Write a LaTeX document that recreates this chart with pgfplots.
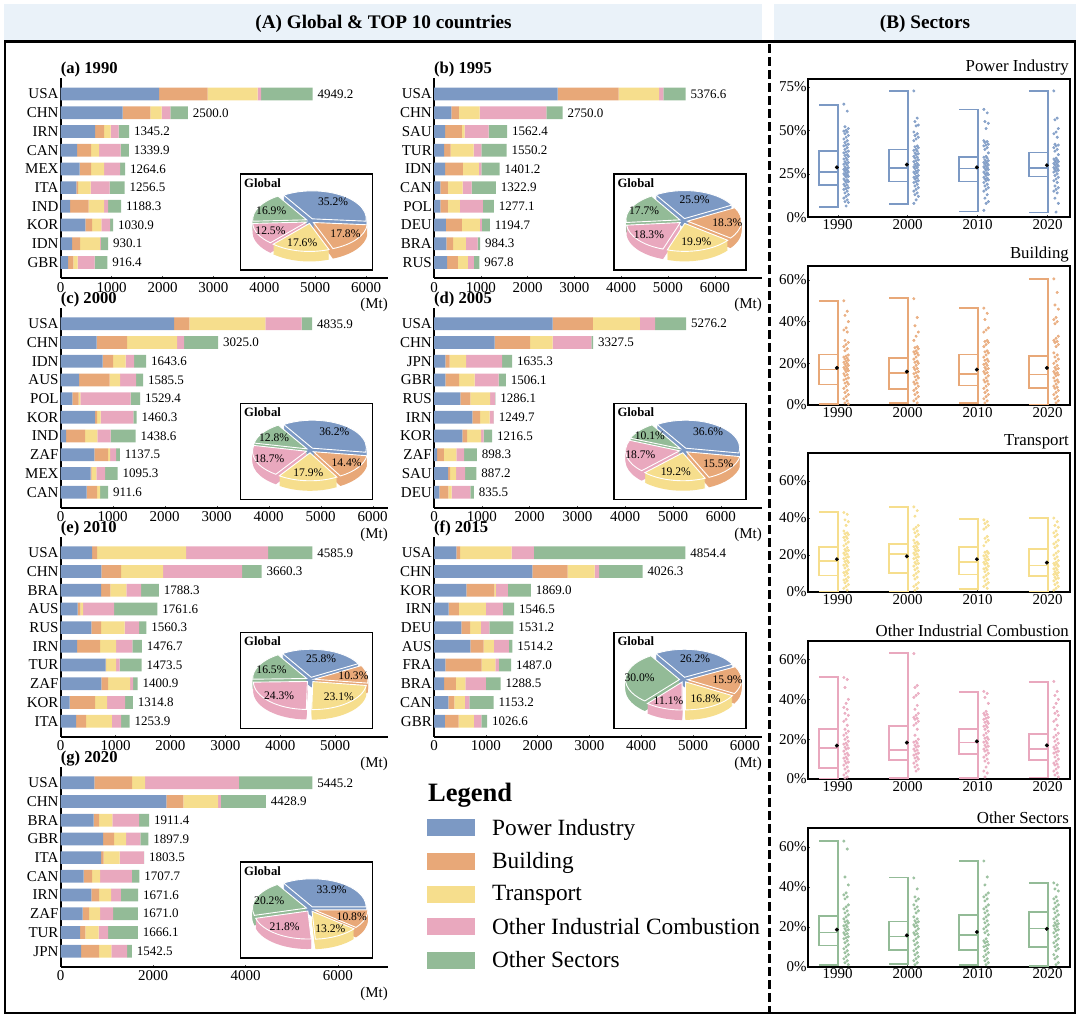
\documentclass[border=0pt]{standalone}
\usepackage{fontspec}
\setmainfont{Liberation Serif}
\usepackage{pgfplots}
\usepackage{pgfplotstable}
\pgfplotsset{compat=1.18}

\definecolor{cP}{HTML}{7C99C4}
\definecolor{cB}{HTML}{E8A878}
\definecolor{cT}{HTML}{F6DE8D}
\definecolor{cO}{HTML}{E9A8BE}
\definecolor{cS}{HTML}{93BB97}
\definecolor{headbg}{HTML}{EAF2F9}

\newcommand{\fs}[1]{\fontsize{#1}{#1}\selectfont}

% widths per sector in Mt, y runs 9..0 from the top row down
\pgfplotstableread{
y name P B T O S total
9 USA 1932 956 982 66 1013 4949.2
8 CHN 1218 544 222 171 345 2500.0
7 IRN 675 176 131 158 205 1345.2
6 CAN 321 275 157 426 161 1339.9
5 MEX 373 223 255 315 99 1264.6
4 ITA 308 33 248 374 294 1256.5
3 IND 183 367 301 79 258 1188.3
2 KOR 485 131 183 170 62 1030.9
1 IDN 223 157 393 17 140 930.1
0 GBR 144 105 85 334 248 916.4
}\dataA
\pgfplotstableread{
y name P B T O S total
9 USA 2641 1302 868 93 473 5376.6
8 CHN 370 164 441 1424 351 2750.0
7 SAU 235 363 57 512 395 1562.4
6 TUR 214 142 491 164 539 1550.2
5 IDN 235 384 342 50 390 1401.2
4 CAN 135 164 313 192 519 1322.9
3 POL 135 164 256 491 231 1277.1
2 DEU 256 342 384 43 170 1194.7
1 BRA 263 143 277 249 52 984.3
0 RUS 278 234 214 128 114 967.8
}\dataB
\pgfplotstableread{
y name P B T O S total
9 USA 2179 295 1462 699 201 4835.9
8 CHN 692 584 961 135 653 3025.0
7 IDN 808 198 244 160 234 1643.6
6 AUS 353 589 199 308 136 1585.5
5 POL 224 122 32 968 183 1529.4
4 KOR 660 39 70 628 63 1460.3
3 IND 103 365 237 257 477 1438.6
2 ZAF 647 263 39 115 73 1137.5
1 MEX 577 19 90 167 242 1095.3
0 CAN 500 199 57 0 156 911.6
}\dataC
\pgfplotstableread{
y name P B T O S total
9 USA 2484 838 984 321 649 5276.2
8 CHN 1270 740 474 810 34 3327.5
7 JPN 237 91 342 754 211 1635.3
6 GBR 237 286 328 503 152 1506.1
5 RUS 551 210 411 105 9 1286.1
4 IRN 803 160 202 84 1 1249.7
3 KOR 593 98 293 56 176 1216.5
2 ZAF 63 146 259 160 270 898.3
1 SAU 293 42 126 188 238 887.2
0 DEU 112 188 70 391 75 835.5
}\dataD
\pgfplotstableread{
y name P B T O S total
9 USA 571 91 1622 1495 807 4585.9
8 CHN 741 359 765 1440 355 3660.3
7 BRA 735 170 292 267 324 1788.3
6 AUS 310 48 49 565 790 1761.6
5 RUS 559 176 431 262 132 1560.3
4 IRN 298 419 292 297 171 1476.7
3 TUR 820 6 183 66 398 1473.5
2 ZAF 741 122 401 54 83 1400.9
1 KOR 164 462 218 329 142 1314.8
0 ITA 279 183 468 170 154 1253.9
}\dataE
\pgfplotstableread{
y name P B T O S total
9 USA 431 71 996 431 2925 4854.4
8 CHN 1897 682 521 90 836 4026.3
7 KOR 624 540 32 232 441 1869.0
6 IRN 283 199 521 328 215 1546.5
5 DEU 527 168 212 161 463 1531.2
4 AUS 701 257 200 289 67 1514.2
3 FRA 219 701 263 71 233 1487.0
2 BRA 193 231 180 399 285 1288.5
1 CAN 277 115 206 84 471 1153.2
0 GBR 212 264 296 141 114 1026.6
}\dataF
\pgfplotstableread{
y name P B T O S total
9 USA 729 816 282 2029 1589 5445.2
8 CHN 2289 368 751 58 974 4428.9
7 BRA 715 115 289 578 216 1911.4
6 GBR 917 238 260 311 173 1897.9
5 ITA 874 57 347 520 7 1803.5
4 CAN 498 181 173 686 166 1707.7
3 IRN 664 166 260 210 375 1671.6
2 ZAF 477 137 238 282 534 1671.0
1 TUR 419 115 289 202 643 1666.1
0 JPN 440 390 267 340 101 1542.5
}\dataG

\pgfplotsset{
  /pgf/number format/assume math mode=true,
  /pgf/number format/1000 sep={},
  barax/.style={
    xbar stacked, scale only axis, anchor=south west, clip=false,
    height=200pt, xmin=0, ymin=-0.83, ymax=9.86,
    bar width=12.7pt, ytick=data,
    axis lines=left, axis line style={-,line width=2pt},
    tick align=inside, major tick length=2pt,
    x tick style={black!70,line width=0.4pt}, y tick style={draw=none},
    tick label style={font=\fs{15}},
    xticklabel style={inner sep=1pt,yshift=-3pt},
    yticklabel style={inner sep=2pt},
  },
  sectorlegend/.style={
    legend image code/.code={\fill[##1] (0pt,-8.5pt) rectangle (48pt,8.5pt);\path (60pt,0pt);},
    legend entries={Power Industry,Building,Transport,Other Industrial Combustion,Other Sectors},
    legend cell align=left,
    legend style={draw=none,fill=none,at={(1.119,0.765)},anchor=north west,inner sep=0pt,
      font=\fs{23.3},row sep=5.7pt,nodes={inner sep=5pt}},
  },
  pieax/.style={
    scale only axis, anchor=south west, width=132pt, height=96pt, clip=false,
    xmin=-69.5, xmax=62.5, ymin=-49, ymax=47, xtick=\empty, ytick=\empty,
    axis line style={line width=1.2pt}, axis background/.style={fill=white},
  },
  secax/.style n args={5}{
    scale only axis, anchor=south west, width=262.3pt, height=#2pt,
    at={(807.7pt,{1018pt-#1pt})},
    xmin=-0.4286, xmax=3.319, ymin=0, ymax=#3,
    xtick={0,1,2,3}, xticklabels={1990,2000,2010,2020},
    ytick={#4}, yticklabel={\pgfmathprintnumber{\tick}\%},
    xtick pos=bottom, ytick pos=left,
    tick align=inside, major tick length=2pt,
    tick style={black!70,line width=0.4pt},
    axis line style={line width=2pt},
    tick label style={font=\fs{15}},
    xticklabel style={inner sep=1pt,yshift=-1pt},
    yticklabel style={inner sep=1pt},
    title={#5}, title style={at={(1,1)},anchor=south east,font=\fs{16.8},inner sep=1pt,yshift=-3pt},
  },
}

% table, left px, x-axis px from top, width px, xmax, xticks, title, extra options
\newcommand{\barpanel}[8]{%
\begin{axis}[barax, at={(#2pt,{1018pt-#3pt})}, width=#4pt, xmax=#5, xtick={#6},
    yticklabels from table={#1}{name}, #8]
  \addplot[fill=cP,draw=none] table[x=P,y=y] {#1};
  \addplot[fill=cB,draw=none] table[x=B,y=y] {#1};
  \addplot[fill=cT,draw=none] table[x=T,y=y] {#1};
  \addplot[fill=cO,draw=none] table[x=O,y=y] {#1};
  % node sits at the middle of the last segment, so push it out by half that segment
  \addplot[fill=cS,draw=none,point meta=explicit symbolic,
    visualization depends on={\thisrow{S}/#5*#4/2 \as \halfseg},
    nodes near coords={\makebox[0pt][l]{\pgfplotspointmeta}},
    every node near coord/.append style={font=\fs{13},inner sep=0pt,xshift=\halfseg pt+5pt,color=black}]
    table[x=S,y=y,meta=total] {#1};
  \node[anchor=west,inner sep=0pt,font=\bfseries\fs{16.6}] at (axis description cs:0,1) [yshift=8.5pt] {#7};
  \node[anchor=east,inner sep=0pt,font=\fs{15}] at (axis description cs:1,0) [yshift=-27pt] {(Mt)};
\end{axis}}

% one pie slice: lifted sides, then the top face
\newcommand{\slice}[3]{%
  \pgfmathsetmacro\am{(#2+#3)/2}%
  \pgfmathsetmacro\ex{4*cos(\am)}%
  \pgfmathsetmacro\ey{2.5*sin(\am)}%
  \foreach \dz in {10,9,...,1}{%
    \fill[#1] ({\ex pt},{\ey pt-\dz pt}) -- ++(#2:54pt and 28pt)
      arc[start angle=#2,end angle=#3,x radius=54pt,y radius=28pt] -- cycle;}%
  \filldraw[fill=#1,draw=white,line width=0.9pt] ({\ex pt},{\ey pt}) -- ++(#2:54pt and 28pt)
      arc[start angle=#2,end angle=#3,x radius=54pt,y radius=28pt] -- cycle;}

% left px, top px, then the five shares
\newcommand{\piepanel}[7]{%
\begin{axis}[pieax, at={(#1pt,{1018pt-#2pt-96pt})}]
\pgfplotsextra{%
  \pgfmathsetmacro\aA{122}%
  \pgfmathsetmacro\aB{\aA-3.6*#3}%
  \pgfmathsetmacro\aC{\aB-3.6*#4}%
  \pgfmathsetmacro\aD{\aC-3.6*#5}%
  \pgfmathsetmacro\aE{\aD-3.6*#6}%
  \pgfmathsetmacro\aF{\aE-3.6*#7}%
  \begin{scope}[shift={(axis cs:0,0)}]
    \slice{cP}{\aA}{\aB}
    \slice{cS}{\aE}{\aF}
    \slice{cB}{\aB}{\aC}
    \slice{cO}{\aD}{\aE}
    \slice{cT}{\aC}{\aD}
    \tikzset{every node/.style={font=\fs{11.6},inner sep=0pt}}
    \node at ({44pt*cos((\aA+\aB)/2)},{22pt*sin((\aA+\aB)/2)}) {#3\%};
    \node at ({44pt*cos((\aB+\aC)/2)},{22pt*sin((\aB+\aC)/2)}) {#4\%};
    \node at ({44pt*cos((\aC+\aD)/2)},{22pt*sin((\aC+\aD)/2)}) {#5\%};
    \node at ({44pt*cos((\aD+\aE)/2)},{22pt*sin((\aD+\aE)/2)}) {#6\%};
    \node at ({44pt*cos((\aE+\aF)/2)},{22pt*sin((\aE+\aF)/2)}) {#7\%};
  \end{scope}
  \node[anchor=west,inner sep=0pt,font=\bfseries\fs{12.7}] at (axis cs:-66.2,38.3) {Global};
}
\end{axis}}

% category, min, q1, median, q3, max, mean, strip values
\newcommand{\hb}[8]{%
  \pgfmathsetmacro\xl{#1-0.267}%
  \addplot[only marks,mark=*,mark size=1.3pt,seccol,mark options={draw=none,fill=seccol,fill opacity=0.85}]
    table[row sep=crcr,header=false,y index=0,x expr={#1+0.12+0.016*(mod(\coordindex*3,5)-2)}] {#8};
  \addplot[seccol,line width=1.7pt,sharp plot,mark=none] coordinates {(\xl,#6) (#1,#6) (#1,#2) (\xl,#2)};
  \addplot[seccol,line width=1.7pt,sharp plot,mark=none] coordinates {(#1,#3) (\xl,#3) (\xl,#5) (#1,#5)};
  \addplot[seccol,line width=1.7pt,sharp plot,mark=none] coordinates {(\xl,#4) (#1,#4)};
  \addplot[only marks,mark=*,mark size=1.8pt,black] coordinates {(#1-0.012,#7)};
}

\begin{document}
\begin{tikzpicture}
\useasboundingbox (0,0) rectangle (1080pt,1018pt);
\fill[headbg] (4pt,977pt) rectangle (762pt,1014pt);
\fill[headbg] (774pt,977pt) rectangle (1076pt,1014pt);
\node[font=\bfseries\fs{19.2}] at (383.5pt,994pt) {(A) Global \& TOP 10 countries};
\node[font=\bfseries\fs{19.2}] at (925pt,994pt) {(B) Sectors};
\draw[line width=2.4pt] (4.7pt,976.3pt) rectangle (1075pt,4.7pt);
\draw[line width=3pt,dash pattern=on 9pt off 4pt] (769pt,974pt) -- (769pt,5pt);

\barpanel{\dataA}{60.7}{278}{327.3}{6430}{0,1000,...,6000}{(a) 1990}{}
\barpanel{\dataB}{434}{278}{328}{7009}{0,1000,...,6000}{(b) 1995}{}
\barpanel{\dataC}{60.7}{507.7}{327.3}{6294}{0,1000,...,6000}{(c) 2000}{}
\barpanel{\dataD}{434}{507.7}{328}{6862}{0,1000,...,6000}{(d) 2005}{}
\barpanel{\dataE}{60.7}{736.7}{327.3}{5962}{0,1000,...,5000}{(e) 2010}{}
\barpanel{\dataF}{434}{736.7}{328}{6332}{0,1000,...,6000}{(f) 2015}{}
\barpanel{\dataG}{60.7}{966.7}{327.3}{7084}{0,2000,4000,6000}{(g) 2020}{sectorlegend}

\piepanel{240.7}{174}{35.2}{17.8}{17.6}{12.5}{16.9}
\piepanel{614}{174}{25.9}{18.3}{19.9}{18.3}{17.7}
\piepanel{240.7}{403.3}{36.2}{14.4}{17.9}{18.7}{12.8}
\piepanel{614}{403.3}{36.6}{15.5}{19.2}{18.7}{10.1}
\piepanel{240.7}{632.7}{25.8}{10.3}{23.1}{24.3}{16.5}
\piepanel{614}{632.7}{26.2}{15.9}{16.8}{11.1}{30.0}
\piepanel{240.7}{862}{33.9}{10.8}{13.2}{21.8}{20.2}

\node[anchor=west,inner sep=0pt,font=\bfseries\fs{26.5}] at (428pt,222.5pt) {Legend};

\colorlet{seccol}{cP}
\begin{axis}[secax={217.3}{138}{79.3}{0,25,50,75}{Power Industry}]
\hb{0}{6.1}{18.6}{26.1}{38.1}{64.4}{28.7}{65\\61\\52\\51\\50\\49.5\\49\\48\\47\\46\\45\\44\\43\\42\\41.5\\41\\40\\39\\38\\37.5\\37\\36\\35.5\\35\\34\\33.5\\33\\32\\31.5\\31\\30.5\\30\\29\\28.5\\28\\27.5\\27\\26.5\\26\\25.5\\25\\24.5\\24\\23.5\\23\\22\\21.5\\21\\20.5\\20\\19\\18.5\\18\\17\\16.5\\16\\15\\14\\13\\12\\11\\10\\9\\8.5\\6.5\\}
\hb{1}{7.7}{20.5}{28.5}{38.9}{72.4}{30.3}{72.6\\57\\55\\53\\52.5\\49\\48\\47\\46\\45\\44\\41\\40.5\\40\\39\\38.5\\38\\37\\36.5\\36\\35\\34.5\\34\\33\\32.5\\32\\31\\30.5\\30\\29.5\\29\\28.5\\28\\27\\26.5\\26\\25.5\\25\\24\\23.5\\23\\22.5\\22\\21\\20.5\\20\\19\\18\\17\\16\\15\\14\\13\\12\\10\\8\\}
\hb{2}{3.4}{20.5}{28}{34.7}{61.9}{28.7}{62\\60\\55\\54\\51\\44\\43.5\\43\\42\\41.5\\41\\40\\39\\37\\35\\34.5\\34\\33\\32.5\\32\\31.5\\31\\30.5\\30\\29.5\\29\\28.5\\28\\27.5\\27\\26\\25.5\\25\\24.5\\24\\23\\22.5\\22\\21.5\\21\\20\\19\\18\\17\\16\\15\\13\\11\\9\\8\\4\\}
\hb{3}{2.7}{23.4}{28.5}{37.2}{72.6}{29.9}{72.6\\57\\56\\51\\49\\48\\46\\42\\41.5\\41\\40\\39\\38\\36\\34\\33.5\\33\\32.5\\32\\31.5\\31\\30.5\\30\\29.5\\29\\28.5\\28\\27.5\\27\\26.5\\26\\25\\24\\23\\22\\21\\20\\18\\17\\16\\15\\14\\11\\8\\3\\}
\end{axis}

\colorlet{seccol}{cB}
\begin{axis}[secax={405}{139}{66.7}{0,20,40,60}{Building}]
\hb{0}{0.5}{9.9}{17}{24.3}{50}{17.8}{50\\45\\43\\40\\37\\36\\35\\31\\30\\29\\28\\27\\26\\24\\23.5\\23\\22.5\\22\\21.5\\21\\20.5\\20\\19.5\\19\\18.5\\18\\17.5\\17\\16.5\\16\\15\\14.5\\14\\13\\12.5\\12\\11\\10.5\\10\\9\\8\\7\\6\\5\\4\\3\\2\\1\\0.5\\}
\hb{1}{1}{7.7}{15.4}{22.7}{51.2}{16}{51\\42\\38\\35\\33\\31\\28\\27.5\\27\\26\\25.5\\25\\24.5\\24\\23\\22\\21\\20.5\\20\\19\\18\\17.5\\17\\16\\15.5\\15\\14\\13.5\\13\\12\\11\\10.5\\10\\9\\8\\7\\6\\5\\4\\3\\2\\1\\}
\hb{2}{0.8}{9.3}{14.9}{24.3}{46.7}{17}{46.5\\44\\41\\37\\36\\35\\31\\30.5\\30\\29\\28\\26\\25.5\\25\\24\\23\\22\\21.5\\21\\20\\19.5\\19\\18\\17.5\\17\\16\\15.5\\15\\14\\13\\12\\11.5\\11\\10\\9\\8\\7\\6\\5\\4\\3\\2\\1\\}
\hb{3}{0.2}{8.3}{14.6}{23.5}{60.6}{17.8}{60.5\\54\\48\\46\\42\\41\\40\\39\\33\\32\\31\\30.5\\30\\29\\28\\25\\24\\23\\22\\21\\20\\19\\18\\17.5\\17\\16\\15.5\\15\\14.5\\14\\13\\12\\11.5\\11\\10\\9\\8.5\\8\\7\\6\\5\\4\\3\\2\\1\\}
\end{axis}

\colorlet{seccol}{cT}
\begin{axis}[secax={592}{138.7}{75}{0,20,40,60}{Transport}]
\hb{0}{0.3}{9}{16.6}{24.3}{43.2}{17.7}{43\\42\\39\\38\\36\\33\\32\\31.5\\31\\30\\29.5\\29\\28\\27\\26\\25\\24\\23\\22.5\\22\\21\\20.5\\20\\19\\18.5\\18\\17\\16.5\\16\\15\\14.5\\14\\13\\12\\11\\10.5\\10\\9\\8\\7\\6.5\\6\\5\\4\\3\\2\\1\\}
\hb{1}{0.3}{10.3}{20.7}{26.1}{46.1}{19.3}{46\\44\\41\\36\\35\\34\\33\\32\\31\\30\\28\\27\\26.5\\26\\25\\24.5\\24\\23\\22.5\\22\\21\\20.5\\20\\19\\18.5\\18\\17\\16\\15.5\\15\\14\\13\\12\\11\\10\\9\\8\\7\\5\\4\\3\\2\\1\\}
\hb{2}{1.6}{9.5}{16.2}{24.5}{39.5}{17.7}{39\\38\\37\\36\\35\\34\\30\\29\\28\\27\\25\\22\\21.5\\21\\20\\19.5\\19\\18\\17.5\\17\\16\\15.5\\15\\14\\13\\12.5\\12\\11\\10\\9\\8\\7\\6\\5\\4\\3\\2\\}
\hb{3}{0.3}{8.8}{14.4}{23.4}{40.2}{15.9}{40\\38\\36\\35\\33\\32\\31\\30\\28\\27\\26\\25\\24\\22\\21\\20\\19\\18\\17\\16\\15.5\\15\\14.5\\14\\13\\12.5\\12\\11\\10.5\\10\\9.5\\9\\8\\7.5\\7\\6\\5\\4\\3\\2\\1\\}
\end{axis}

\colorlet{seccol}{cO}
\begin{axis}[secax={779}{138.3}{69.5}{0,20,40,60}{Other Industrial Combustion}]
\hb{0}{0.2}{5.5}{15.6}{25.3}{51.3}{16.8}{51\\50\\46\\40\\38\\36\\35\\33\\32\\30\\29\\27\\25\\24\\23\\22\\21\\20\\19\\18\\17.5\\17\\16\\15.5\\15\\14\\13\\12.5\\12\\11\\10.5\\10\\9\\8.5\\8\\7\\6\\5\\4\\3\\2\\1\\0.5\\}
\hb{1}{0.5}{9.4}{14.6}{26.8}{63.3}{18.3}{63\\47\\46\\43\\42\\41\\37\\35\\33\\32\\31\\30.5\\30\\29\\28\\27\\25\\22\\20\\19\\18.5\\18\\17\\16.5\\16\\15\\14.5\\14\\13\\12.5\\12\\11\\10.5\\10\\9\\8\\7\\6\\5\\4\\}
\hb{2}{0.5}{12.4}{18.3}{25}{43.7}{18.9}{44\\43\\41\\38\\34\\33\\32.5\\32\\31\\30.5\\30\\29\\28.5\\28\\27\\26.5\\26\\25\\24\\23\\22\\21\\20.5\\20\\19\\18.5\\18\\17\\16.5\\16\\15\\14.5\\14\\13\\12\\11\\10\\9\\8\\6\\4\\3\\1\\}
\hb{3}{0.8}{9.5}{15.2}{22.6}{48.9}{16.9}{49\\44\\42\\40\\38\\36\\34\\33\\32\\30\\29\\27\\25\\23\\22\\21\\20\\19\\18\\17\\16\\15.5\\15\\14\\13.5\\13\\12\\11\\10\\9\\8\\7.5\\7\\6\\5\\4\\3\\2\\1\\}
\end{axis}

\colorlet{seccol}{cS}
\begin{axis}[secax={966.7}{138.4}{69.4}{0,20,40,60}{Other Sectors}]
\hb{0}{1}{10.7}{17.2}{25.3}{63.2}{18.6}{63\\59\\45\\41\\37\\36\\35\\34\\31\\30\\29\\28\\27\\26\\25\\24\\23\\22.5\\22\\21\\20.5\\20\\19\\18.5\\18\\17\\16.5\\16\\15\\14.5\\14\\13\\12\\11\\10\\9\\8\\7\\6\\5\\4\\3\\2\\1\\}
\hb{1}{1.3}{8.4}{15.2}{22.6}{44.8}{15.7}{44.5\\39\\35\\34\\33\\31\\30\\29\\28\\27\\25\\24\\23\\22.5\\22\\21\\20.5\\20\\19\\18\\17\\16.5\\16\\15\\14\\13\\12\\11\\10\\9\\8\\7\\6\\5\\4\\3\\2\\1\\}
\hb{2}{0.8}{8.4}{15.9}{25.8}{53}{17.4}{53\\45\\41\\37\\36\\35\\34\\33\\31\\30\\29\\28\\27\\26\\25\\24\\23\\22\\21\\20\\19\\18\\17\\16\\14\\13\\12.5\\12\\11\\10.5\\10\\9\\8\\7\\6\\5\\4\\3\\2\\1\\}
\hb{3}{0.5}{9.9}{19.2}{27.3}{42.1}{19}{42\\41\\39\\38\\35\\34\\33\\32\\31\\30\\29\\28\\27\\26\\25\\24\\23\\22\\21.5\\21\\20.5\\20\\19\\18.5\\18\\17\\16\\15\\14\\13\\12\\11\\10\\9\\8\\6\\5\\4\\2\\1\\}
\end{axis}
\end{tikzpicture}
\end{document}
